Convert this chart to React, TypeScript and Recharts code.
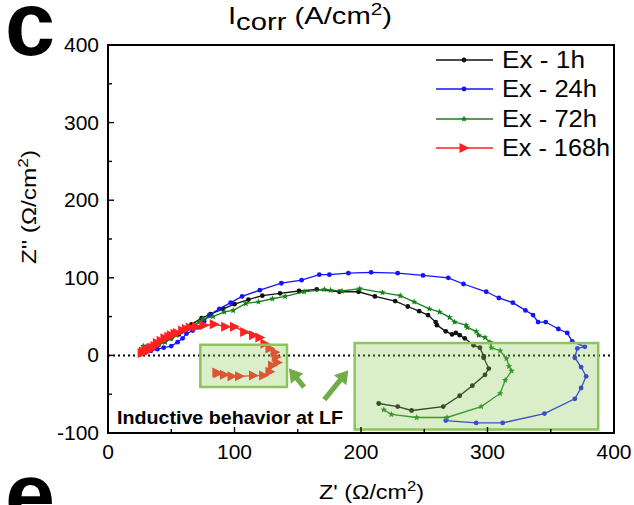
import React from 'react';
import {
  ScatterChart,
  Scatter,
  XAxis,
  YAxis,
  ReferenceArea,
  ReferenceLine,
  Customized,
} from 'recharts';

const FONT = '"Liberation Sans", Arial, Helvetica, sans-serif';

const xTicks = [0, 50, 100, 150, 200, 250, 300, 350, 400];
const yTicks = [-100, -50, 0, 50, 100, 150, 200, 250, 300, 350, 400];

const seriesNames = ['Ex - 1h', 'Ex - 24h', 'Ex - 72h', 'Ex - 168h'];
const seriesColors = ['#111111', '#1414ff', '#148214', '#ff2020'];

const ex1h = [
  [29, 4], [31, 6], [35, 10], [40, 14], [45, 18], [50, 22], [56, 27], [61, 32], [66, 40],
  [74, 48], [81, 53], [91, 60], [100, 66], [111, 72], [122, 77], [136, 80], [151, 83],
  [165, 85], [183, 82], [198, 82], [211, 76], [227, 70], [237, 63], [246, 57], [253, 52],
  [259, 43], [260, 39], [267, 31], [272, 27], [275, 29], [278, 26], [282, 22], [289, 13],
  [294, 10], [297, -1], [297, -3], [301, -17], [298, -25], [288, -39], [278, -52],
  [265, -66], [240, -71], [229, -66], [214, -62],
];

const ex24h = [
  [30, 4], [34, 6], [39, 8], [44, 10], [50, 12], [55, 17], [59, 22], [62, 28], [67, 32],
  [71, 36], [76, 44], [80, 52], [88, 60], [97, 68], [106, 76], [120, 84], [137, 93],
  [153, 97], [167, 104], [175, 104], [190, 106], [208, 107], [229, 106], [249, 103],
  [269, 100], [281, 92], [299, 82], [309, 74], [320, 68], [330, 58], [336, 52], [340, 43],
  [346, 43], [356, 34], [363, 29], [367, 18], [377, 11], [371, 9], [369, -3], [374, -15],
  [378, -27], [374, -42], [369, -56], [345, -75], [312, -87], [291, -87], [267, -84],
];

const ex72h = [
  [28, 12], [31, 12], [35, 11], [40, 14], [45, 17], [50, 22], [54, 26], [58, 30], [62, 34],
  [67, 38], [72, 43], [75, 47], [83, 50], [92, 56], [99, 58], [109, 67], [119, 69],
  [130, 73], [140, 76], [155, 82], [171, 85], [176, 84], [185, 83], [199, 86], [217, 81],
  [231, 77], [242, 69], [254, 60], [262, 56], [270, 49], [274, 43], [283, 39], [284, 36],
  [291, 31], [293, 26], [298, 23], [302, 17], [303, 10], [310, 6], [315, -4], [317, -14],
  [319, -20], [314, -32], [310, -49], [295, -66], [268, -80], [244, -80], [224, -76],
  [218, -70],
];

const ex168h = [
  [27, 3], [28, 5], [29, 4], [30, 6], [31, 7], [32, 6], [33, 8], [34, 9], [35, 10], [37, 12],
  [39, 16], [42, 19], [45, 22], [48, 24], [50, 26], [53, 28], [55, 29], [59, 32], [62, 34],
  [65, 36], [70, 37], [76, 39], [84, 40], [93, 37], [100, 37], [108, 30], [115, 26],
  [120, 23], [124, 15], [128, 9], [132, 4], [133, -2], [134, -9], [130, -13], [128, -21],
  [123, -26], [115, -26], [104, -27], [98, -27], [92, -25], [87, -23], [86, -22],
];

// highlighted low-frequency regions [x1, x2, y1, y2]
const lfBoxes = [
  [73, 141.5, -40.8, 13.8],
  [195, 387.5, -95.4, 15.9],
];

// arrows pointing at the boxes [tailX, tailY, tipX, tipY]
const lfArrows = [
  [155, -41, 143, -17],
  [171, -57, 190, -19],
];

const toPts = (arr: number[][]) => arr.map(([x, y]) => ({ x, y }));

const Dot = ({ cx, cy, fill, r = 2.4 }: any) => <circle cx={cx} cy={cy} r={r} fill={fill} />;

const Star = ({ cx, cy, fill }: any) => {
  const pts: string[] = [];
  for (let i = 0; i < 10; i++) {
    const a = (Math.PI / 5) * i - Math.PI / 2;
    const rr = i % 2 === 0 ? 3.4 : 1.5;
    pts.push(`${cx + rr * Math.cos(a)},${cy + rr * Math.sin(a)}`);
  }
  return <polygon points={pts.join(' ')} fill={fill} />;
};

const Tri = ({ cx, cy, fill }: any) => (
  <polygon points={`${cx - 4.5},${cy - 5} ${cx + 5.5},${cy} ${cx - 4.5},${cy + 5}`} fill={fill} />
);

const markers = [
  (p: any) => <Dot {...p} fill={seriesColors[0]} />,
  (p: any) => <Dot {...p} fill={seriesColors[1]} />,
  (p: any) => <Star {...p} fill={seriesColors[2]} />,
  (p: any) => <Tri {...p} fill={seriesColors[3]} />,
];

const XTick = ({ x, y, payload }: any) => {
  const major = payload.value % 100 === 0;
  return (
    <g>
      <line x1={x} x2={x} y1={y} y2={y - (major ? 6 : 4)} stroke="#000" strokeWidth={1.4} />
      {major && (
        <text x={x} y={y + 26} textAnchor="middle" fontSize={21} fontFamily={FONT} fill="#000">
          {payload.value}
        </text>
      )}
    </g>
  );
};

const YTick = ({ x, y, payload }: any) => {
  const major = payload.value % 100 === 0;
  return (
    <g>
      <line x1={x} x2={x + (major ? 6 : 4)} y1={y} y2={y} stroke="#000" strokeWidth={1.4} />
      {major && (
        <text x={x - 9} y={y + 7} textAnchor="end" fontSize={21} fontFamily={FONT} fill="#000">
          {payload.value}
        </text>
      )}
    </g>
  );
};

const Arrow = ({ x1, y1, x2, y2 }: any) => {
  const dx = x2 - x1;
  const dy = y2 - y1;
  const len = Math.sqrt(dx * dx + dy * dy);
  const ux = dx / len;
  const uy = dy / len;
  const nx = -uy;
  const ny = ux;
  const head = 13;
  const hw = 8;
  const sw = 2.6;
  const bx = x2 - ux * head;
  const by = y2 - uy * head;
  const pts = [
    [x1 + nx * sw, y1 + ny * sw],
    [bx + nx * sw, by + ny * sw],
    [bx + nx * hw, by + ny * hw],
    [x2, y2],
    [bx - nx * hw, by - ny * hw],
    [bx - nx * sw, by - ny * sw],
    [x1 - nx * sw, y1 - ny * sw],
  ];
  return <polygon points={pts.map((p) => p.join(',')).join(' ')} fill="#70ad47" />;
};

const Overlay = () => {
  const rows = [60, 89, 119, 148];
  const legendW = [83, 95, 95, 108];
  return (
    <g fontFamily={FONT} fill="#000">
      <text x={5} y={55} fontSize={90} fontWeight="bold">c</text>
      <text x={5} y={526} fontSize={90} fontWeight="bold">e</text>
      <text x={228} y={24} fontSize={24} textLength={164} lengthAdjust="spacingAndGlyphs">
        I<tspan dy={6}>corr</tspan>
        <tspan dy={-6}> (A/cm</tspan>
        <tspan fontSize={17} dy={-9}>2</tspan>
        <tspan dy={9}>)</tspan>
      </text>
      <text x={319} y={499} fontSize={21} textLength={105} lengthAdjust="spacingAndGlyphs">
        Z' (Ω/cm<tspan fontSize={15} dy={-8}>2</tspan>
        <tspan dy={8}>)</tspan>
      </text>
      <text
        transform="translate(36,207) rotate(-90)"
        textAnchor="middle"
        fontSize={21}
        textLength={114}
        lengthAdjust="spacingAndGlyphs"
      >
        Z'' (Ω/cm<tspan fontSize={15} dy={-8}>2</tspan>
        <tspan dy={8}>)</tspan>
      </text>
      <text x={117} y={424} fontSize={19} fontWeight="bold" textLength={226} lengthAdjust="spacingAndGlyphs">
        Inductive behavior at LF
      </text>
      {rows.map((ry, i) => (
        <g key={seriesNames[i]}>
          <line x1={436} x2={493} y1={ry} y2={ry} stroke={seriesColors[i]} strokeWidth={1.4} />
          {markers[i]({ cx: 464, cy: ry })}
          <text x={502} y={ry + 8} fontSize={23} textLength={legendW[i]} lengthAdjust="spacingAndGlyphs">
            {seriesNames[i]}
          </text>
        </g>
      ))}
    </g>
  );
};

const allSeries = [ex1h, ex24h, ex72h, ex168h];

export default function App() {
  return (
    <div style={{ position: 'absolute', left: 0, top: 0, background: '#fff' }}>
      <ScatterChart width={634} height={505} margin={{ top: 45, right: 20, left: 0, bottom: 0 }}>
        <XAxis
          type="number"
          dataKey="x"
          domain={[0, 400]}
          ticks={xTicks}
          allowDataOverflow
          height={72}
          tickLine={false}
          tickSize={0}
          tickMargin={0}
          axisLine={{ stroke: '#000', strokeWidth: 2 }}
          tick={<XTick />}
        />
        <YAxis
          type="number"
          dataKey="y"
          domain={[-100, 400]}
          ticks={yTicks}
          allowDataOverflow
          width={108}
          tickLine={false}
          tickSize={0}
          tickMargin={0}
          axisLine={{ stroke: '#000', strokeWidth: 2 }}
          tick={<YTick />}
        />
        <ReferenceLine y={0} stroke="#000" strokeWidth={2} strokeDasharray="2 3" />
        {allSeries.map((s, i) => (
          <Scatter
            key={seriesNames[i]}
            name={seriesNames[i]}
            data={toPts(s)}
            fill={seriesColors[i]}
            line={{ stroke: seriesColors[i], strokeWidth: 1.3 }}
            lineType="joint"
            shape={markers[i]}
            isAnimationActive={false}
          />
        ))}
        {lfBoxes.map(([x1, x2, y1, y2], i) => (
          <ReferenceArea
            key={'box' + i}
            x1={x1}
            x2={x2}
            y1={y1}
            y2={y2}
            fill="#8fc95a"
            fillOpacity={0.32}
            stroke="#8cc65a"
            strokeWidth={2.5}
            ifOverflow="visible"
            zIndex={700}
          />
        ))}
        {lfArrows.map(([x1, y1, x2, y2], i) => (
          <ReferenceLine
            key={'arrow' + i}
            segment={[{ x: x1, y: y1 }, { x: x2, y: y2 }]}
            shape={(p: any) => <Arrow {...p} />}
            ifOverflow="visible"
            zIndex={700}
          />
        ))}
        <ReferenceArea x1={0} x2={400} y1={-100} y2={400} fill="none" stroke="#000" strokeWidth={2} ifOverflow="visible" zIndex={800} />
        <Customized component={Overlay} />
      </ScatterChart>
    </div>
  );
}
